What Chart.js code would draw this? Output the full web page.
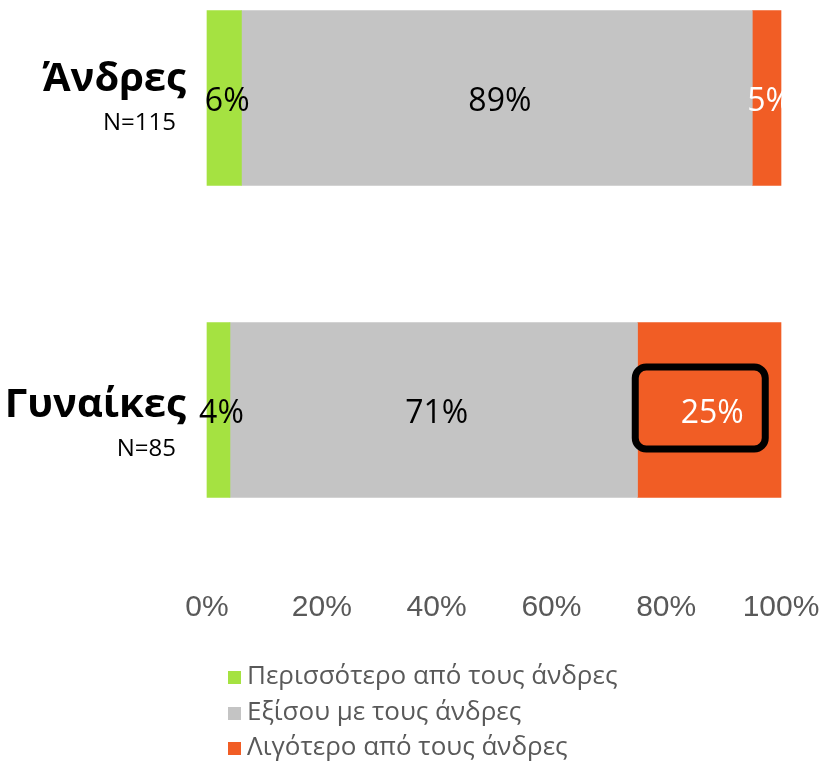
<!DOCTYPE html>
<html lang="el">
<head>
    <meta charset="UTF-8">
    <title>Άνδρες / Γυναίκες</title>
    <script src="https://cdn.jsdelivr.net/npm/chart.js"></script>
    <style>
        body { margin: 0; background: #fff; }
        #chart_container { width: 827px; height: 761px; position: relative; }
    </style>
</head>
<body>
    <div id="chart_container">
        <canvas id="chart"></canvas>
    </div>

    <script>
        // data
        const CATEGORIES = ['Άνδρες', 'Γυναίκες']
        const SAMPLE_SIZES = ['N=115', 'N=85']
        const SERIES_NAMES = [
            'Περισσότερο από τους άνδρες',
            'Εξίσου με τους άνδρες',
            'Λιγότερο από τους άνδρες'
        ]
        const MORE_VALUES = [6, 4]
        const EQUAL_VALUES = [89, 71]
        const LESS_VALUES = [5, 25]
        const X_TICKS = [0, 20, 40, 60, 80, 100]

        const SERIES_COLORS = ['#a5e241', '#c4c4c4', '#f15d25']
        const LABEL_COLORS = ['#000000', '#000000', '#ffffff']
        const HIGHLIGHT = { dataset: 2, index: 1 }   // 25% box

        const GREEK_FONT = '"Open Sans", "Noto Sans", sans-serif'

        // value labels inside the bars + the black box
        const barLabels = {
            id: 'barLabels',
            afterDatasetsDraw(chart) {
                const ctx = chart.ctx
                ctx.save()
                ctx.font = '32px ' + GREEK_FONT
                ctx.textAlign = 'center'
                ctx.textBaseline = 'middle'
                chart.data.datasets.forEach((ds, di) => {
                    const meta = chart.getDatasetMeta(di)
                    meta.data.forEach((el, i) => {
                        const c = el.getCenterPoint()
                        ctx.fillStyle = LABEL_COLORS[di]
                        ctx.fillText(ds.data[i] + '%', c.x + 3, c.y + 4)
                        if (di === HIGHLIGHT.dataset && i === HIGHLIGHT.index) {
                            ctx.lineWidth = 7
                            ctx.strokeStyle = '#000'
                            ctx.beginPath()
                            ctx.roundRect(c.x - 74, c.y - 43, 130, 82, 11)
                            ctx.stroke()
                        }
                    })
                })
                ctx.restore()
            }
        }

        // category names on the left and legend at the bottom
        const sideText = {
            id: 'sideText',
            afterDraw(chart) {
                const ctx = chart.ctx
                const y = chart.scales.y
                const nameShift = [-18, -4]
                ctx.save()
                ctx.textBaseline = 'middle'
                ctx.textAlign = 'right'
                ctx.fillStyle = '#000'
                CATEGORIES.forEach((cat, i) => {
                    const py = y.getPixelForValue(i)
                    ctx.font = 'bold 40px ' + GREEK_FONT
                    ctx.fillText(cat, 186, py + nameShift[i])
                    ctx.font = '24px ' + GREEK_FONT
                    ctx.fillText(SAMPLE_SIZES[i], 176, py + nameShift[i] + 43)
                })

                // legend, one item per line
                ctx.textAlign = 'left'
                ctx.font = '26px ' + GREEK_FONT
                const legendY = [677, 713, 748]
                chart.data.datasets.forEach((ds, di) => {
                    ctx.fillStyle = ds.backgroundColor
                    ctx.fillRect(228, legendY[di] - 6, 13, 13)
                    ctx.fillStyle = '#595959'
                    ctx.fillText(ds.label, 247, legendY[di])
                })
                ctx.restore()
            }
        }

        const datasets = [MORE_VALUES, EQUAL_VALUES, LESS_VALUES].map((vals, i) => ({
            label: SERIES_NAMES[i],
            data: vals,
            backgroundColor: SERIES_COLORS[i],
            borderWidth: 0,
            barThickness: 175,
            clip: false
        }))

        new Chart(document.getElementById('chart'), {
            type: 'bar',
            data: { labels: CATEGORIES, datasets: datasets },
            options: {
                indexAxis: 'y',
                responsive: true,
                maintainAspectRatio: false,
                animation: false,
                layout: { padding: { top: 98, left: 207, right: 46, bottom: 136 } },
                plugins: {
                    legend: { display: false },
                    tooltip: { enabled: false }
                },
                scales: {
                    x: {
                        stacked: true,
                        min: 0,
                        max: 100,
                        grid: { display: false, drawTicks: false },
                        border: { display: false },
                        afterBuildTicks: (scale) => {
                            scale.ticks = X_TICKS.map(v => ({ value: v }))
                        },
                        // big gap under the bars: keep the scale from eating the width
                        afterFit: (scale) => {
                            scale.height = 215
                            scale.paddingLeft = 25
                            scale.paddingRight = 40
                        },
                        ticks: {
                            padding: 180,
                            color: '#595959',
                            font: { family: '"Liberation Sans", Arial, sans-serif', size: 30 },
                            callback: (v) => v + '%'
                        }
                    },
                    y: {
                        stacked: true,
                        offset: false,
                        display: false
                    }
                }
            },
            plugins: [barLabels, sideText]
        })
    </script>
</body>
</html>
